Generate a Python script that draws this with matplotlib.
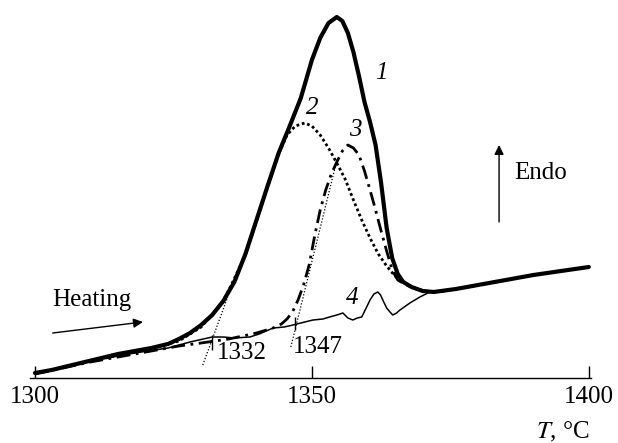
import matplotlib
matplotlib.use("Agg")
import matplotlib.pyplot as plt

plt.rcParams['font.family'] = ['Liberation Serif', 'DejaVu Serif']
plt.rcParams['mathtext.fontset'] = 'stix'

# curve 1 - total DTA signal
t1 = [1300, 1303, 1306, 1309, 1312, 1315, 1318, 1321, 1324, 1326, 1328, 1330,
      1332, 1334, 1336, 1338, 1340, 1342, 1344, 1346, 1348, 1350, 1351.5, 1353,
      1354.5, 1355.5, 1356.5, 1357.5, 1358.5, 1359.5, 1360.5, 1361.5, 1362.5,
      1363.5, 1364.5, 1365.5, 1366.5, 1368, 1370, 1372, 1376, 1380, 1385, 1390,
      1395, 1400]
s1 = [5, 8, 12, 16, 20, 24, 27, 30, 34, 39, 45, 53,
      63, 77, 96, 124, 158, 192, 225, 252, 280, 318, 340, 355,
      361, 357, 345, 326, 302, 276, 256, 233, 195,
      150, 120, 104, 96, 91, 87, 86, 89, 93, 98, 103,
      107, 111]

# curve 2 - first peak
t2 = [1300, 1310, 1320, 1326, 1330, 1334, 1338, 1340, 1342, 1344, 1345.5, 1347,
      1348.7, 1350, 1351.5, 1353, 1354.5, 1356, 1357.5, 1359, 1360.5, 1362,
      1363.5, 1365, 1367, 1369, 1371, 1374, 1377]
s2 = [4, 17, 28, 37, 51, 76, 123, 157, 191, 224, 243, 252,
      255, 252, 243, 230, 215, 199, 178, 158, 140, 124,
      112, 102, 94, 89, 86, 87, 90]

# curve 3 - second peak
t3 = [1300, 1310, 1320, 1326, 1330, 1335, 1340, 1343, 1344.5, 1345.5, 1346.5,
      1347.5, 1348.5, 1349.5, 1350.5, 1351.5, 1352.5, 1353.5, 1354.5, 1355.5,
      1356.5, 1357.5, 1358.5, 1359.5, 1360.5, 1361.5, 1362.5, 1363.5, 1364.5,
      1365.5, 1367, 1368]
s3 = [4, 16, 26, 32, 35, 39, 45, 50, 54, 59, 66,
      78, 93, 113, 142, 168, 188, 204, 216, 227,
      233, 230, 223, 207, 188, 168, 147, 127, 108,
      98, 93, 91]

# curve 4 - difference
t4 = [1300, 1306, 1312, 1318, 1324, 1328, 1332, 1334, 1336, 1338.8, 1340.5,
      1343, 1345, 1346.6, 1348, 1350.2, 1352, 1353.2, 1354.5, 1355.6, 1356.5,
      1357.4, 1358.2, 1359, 1359.8, 1360.5, 1361.2, 1361.9, 1362.4, 1362.8,
      1363.5, 1364.1, 1364.6, 1365.3, 1365.9, 1367.7, 1369.5, 1371.3]
s4 = [5, 12, 19, 25, 30, 36, 41, 41, 40, 41, 44,
      50, 51, 53, 55, 58, 59, 61, 63, 65, 60,
      58, 60, 61, 70, 78, 84, 86, 83, 78,
      70, 66, 63, 65, 68, 75, 81, 86]

# onset tangents and onset marks
tan1_t = [1330.3, 1334.8]
tan1_s = [13, 81]
tan2_t = [1346.2, 1354.3]
tan2_s = [31, 213]
onsets = [1332, 1347]
onset_lo = [28, 48]
onset_hi = [43, 61]

fig = plt.figure(figsize=(6.18, 4.43), dpi=100)
ax = fig.add_axes([30 / 618, 65 / 443, 561 / 618, 378 / 443])

ax.plot(t1, s1, color='black', lw=3.0, solid_capstyle='round',
        solid_joinstyle='round', zorder=4)
ax.plot(t2, s2, color='black', lw=2.0, linestyle=(0, (1, 1)), zorder=3)
ax.plot(t3, s3, color='black', lw=2.0, linestyle=(0, (5, 2, 1, 2)), zorder=3)
ax.plot(t4, s4, color='black', lw=1.1, zorder=3)

ax.plot(tan1_t, tan1_s, color='black', lw=0.9, linestyle=(0, (1, 1.5)))
ax.plot(tan2_t, tan2_s, color='black', lw=0.9, linestyle=(0, (1, 1.5)))
ax.vlines(onsets, onset_lo, onset_hi, color='black', lw=1.0)

fs = 18
ax.text(1337.4, 25, '1332', fontsize=fs, ha='center', va='center')
ax.text(1351.1, 31, '1347', fontsize=fs, ha='center', va='center')
ax.text(1362.6, 305, '1', fontsize=fs, style='italic', ha='center', va='center')
ax.text(1350.0, 270, '2', fontsize=fs, style='italic', ha='center', va='center')
ax.text(1357.8, 248, '3', fontsize=fs, style='italic', ha='center', va='center')
ax.text(1357.2, 80, '4', fontsize=fs, style='italic', ha='center', va='center')

ax.annotate('', xy=(1319.5, 56), xytext=(1303.2, 45),
            arrowprops=dict(arrowstyle='-|>', color='black', lw=1.0,
                            mutation_scale=14, shrinkA=0, shrinkB=0))
ax.text(1310.3, 78, 'Heating', fontsize=fs, ha='center', va='center')

ax.annotate('', xy=(1383.8, 233), xytext=(1383.8, 156),
            arrowprops=dict(arrowstyle='-|>', color='black', lw=1.0,
                            mutation_scale=14, shrinkA=0, shrinkB=0))
ax.text(1386.6, 205, 'Endo', fontsize=fs, ha='left', va='center')

ax.set_xlim(1299.1, 1400.4)
ax.set_ylim(0, 378)
ax.set_xticks([1300, 1350, 1400])
ax.set_yticks([])
ax.tick_params(axis='x', direction='in', length=9, width=1.0, pad=6, labelsize=fs)
for side in ['left', 'top', 'right']:
    ax.spines[side].set_visible(False)
ax.spines['bottom'].set_linewidth(1.0)
ax.patch.set_alpha(0)

fig.text(590 / 618, 1 - 432 / 443, '$T$, °C', fontsize=fs, ha='right', va='center')

plt.savefig('out.png', dpi=100)
